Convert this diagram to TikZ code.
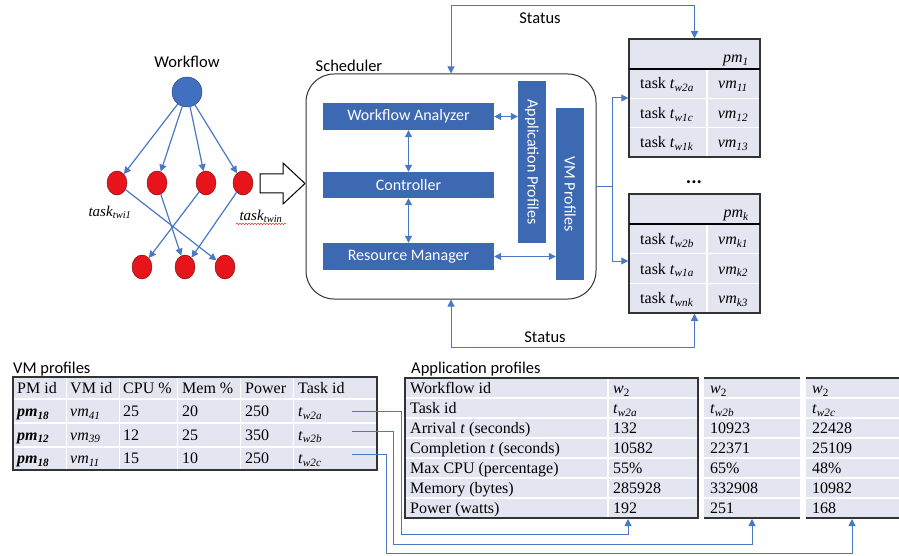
\documentclass[tikz,border=0pt]{standalone}
\usepackage{fontspec}
\setmainfont{Liberation Serif}
\newfontfamily\lblfont{Carlito}
\usetikzlibrary{arrows.meta, shapes.geometric, decorations.pathmorphing}
\definecolor{boxblue}{HTML}{3D68B2}
\definecolor{linkblue}{HTML}{4A78C4}
\definecolor{cellfill}{HTML}{E3E5F1}
\definecolor{taskred}{HTML}{E8141B}
\definecolor{rootblue}{HTML}{4270C0}
\definecolor{framegray}{HTML}{333333}
\newcommand{\tsub}[2]{\textit{#1}\textsubscript{\textit{#2}}}

\begin{document}
\begin{tikzpicture}[x=1pt, y=-1pt,
  lbl/.style={font=\lblfont\fontsize{16.5}{19}\selectfont, inner sep=0},
  tbl/.style={font=\fontsize{16}{18}\selectfont, anchor=base west, inner sep=0},
  bluebox/.style={fill=boxblue, text=white, font=\lblfont\fontsize{16}{19}\selectfont, inner sep=0},
  tasknode/.style={ellipse, fill=taskred, draw=taskred!45!black, minimum width=20, minimum height=24, inner sep=0},
  link/.style={linkblue, line width=1.2, -{Triangle[length=7pt, width=7pt]}},
  dlink/.style={linkblue, line width=1.2, {Triangle[length=7pt, width=7pt]}-{Triangle[length=7pt, width=7pt]}},
  thinlink/.style={linkblue, line width=1, -{Triangle[length=7pt, width=7pt]}},
  tblframe/.style={draw=framegray, fill=cellfill, line width=1.5, inner sep=0},
  sep/.style={white, line width=1.5}]
  \useasboundingbox (0,0) rectangle (899,556);

  % Workflow graph
  \node[lbl] (wflbl) at (187,62) {Workflow};
  \node[circle, fill=rootblue, draw=rootblue!55!black, minimum size=30, inner sep=0] (root) at (187,92) {};
  \foreach \i/\x in {1/117, 2/157, 3/206, 4/243}
    \node[tasknode] (t\i) at (\x,183) {};
  \foreach \i/\x in {1/142, 2/185, 3/225}
    \node[tasknode] (s\i) at (\x,267) {};
  \foreach \i in {1,...,4}
    \draw[link] (root) -- (t\i);
  \foreach \a/\b in {1/3, 2/2, 3/1, 4/2}
    \draw[link] (t\a) -- (s\b);
  \node[font=\fontsize{15}{18}\selectfont] (tasklbl1) at (110,212) {\textit{task}\textsubscript{\textit{twi1}}};
  \node[font=\fontsize{15}{18}\selectfont] (tasklbl2) at (261,216) {\textit{task}\textsubscript{\textit{twin}}};
  \draw[red, decorate, decoration={snake, amplitude=0.7pt, segment length=3pt}]
    ([yshift=2pt]tasklbl2.south west) -- ([yshift=2pt]tasklbl2.south east);

  % hand-over arrow
  \draw[line width=1, fill=white] (260,174) -- (283,174) -- (283,163) -- (305,183.5)
    -- (283,204) -- (283,193) -- (260,193) -- cycle;

  % Scheduler
  \node[lbl] (schedlbl) at (349,66) {Scheduler};
  \node[draw=framegray, line width=1, rounded corners=28, minimum width=290, minimum height=225, inner sep=0] (sched) at (451,186.5) {};
  \node[bluebox, minimum width=171, minimum height=27] (wa) at (408.5,116.5) {Workflow Analyzer};
  \node[bluebox, minimum width=171, minimum height=26] (ctrl) at (408.5,185) {Controller};
  \node[bluebox, minimum width=171, minimum height=27] (rm) at (408.5,256.5) {Resource Manager};
  \node[bluebox, rotate=-90, minimum width=162, minimum height=28] (ap) at (532,162) {Application Profiles};
  \node[bluebox, rotate=-90, minimum width=172, minimum height=28] (vmp) at (570,194) {VM Profiles};
  \draw[dlink] (wa.east) -- (wa.east -| ap.south);
  \draw[dlink] (wa.south) -- (ctrl.north);
  \draw[dlink] (ctrl.south) -- (rm.north);
  \draw[dlink] (rm.east) -- (rm.east -| vmp.south);

  % PM tables
  \node[tblframe, minimum width=131, minimum height=118] (pm1) at (694.5,98) {};
  \draw[sep] (630,98.3) -- (759,98.3) (630,127.7) -- (759,127.7) (707,70) -- (707,156);
  \draw[black, line width=1.5] (629,69) -- (760,69);
  \node[tbl, anchor=base east] (pm1hd) at (749,63) {\tsub{pm}{1}};
  \foreach \y/\tk/\vm in {89/w2a/11, 118.5/w1c/12, 148/w1k/13} {
    \node[tbl] at (640,\y) {task \tsub{t}{\tk}};
    \node[tbl, anchor=base] at (733,\y) {\tsub{vm}{\vm}};
  }
  \node[font=\lblfont\bfseries\fontsize{20}{20}\selectfont, anchor=base, inner sep=0] (dots) at (694,184) {...};
  \node[tblframe, minimum width=131, minimum height=119] (pmk) at (694.5,253.5) {};
  \draw[sep] (630,253.7) -- (759,253.7) (630,283.3) -- (759,283.3) (707,225) -- (707,312);
  \draw[black, line width=1.5] (629,224) -- (760,224);
  \node[tbl, anchor=base east] (pmkhd) at (749,218) {\tsub{pm}{k}};
  \foreach \y/\tk/\vm in {244.5/w2b/k1, 274/w1a/k2, 303.5/wnk/k3} {
    \node[tbl] at (640,\y) {task \tsub{t}{\tk}};
    \node[tbl, anchor=base] at (733,\y) {\tsub{vm}{\vm}};
  }

  % Scheduler to PMs
  \coordinate (fork) at (612,186.5);
  \draw[linkblue, line width=1] (sched.east) -- (fork);
  \draw[thinlink] (fork) |- (pm1.west);
  \draw[thinlink] (fork) |- ([yshift=-7.5pt]pmk.west);

  % Status loops
  \draw[dlink, line width=1] (sched.north) -- (sched.north |- 0,6) -| (pm1.north);
  \node[lbl] (stat1) at (540,18) {Status};
  \draw[dlink, line width=1] (sched.south) -- (sched.south |- 0,347) -| (pmk.south);
  \node[lbl] (stat2) at (545,337) {Status};

  % VM profiles table
  \node[lbl, anchor=west] (vmlbl) at (13,369) {VM profiles};
  \node[tblframe, minimum width=364, minimum height=93] (vmtab) at (195,423.5) {};
  \draw[sep] (14,399) -- (376,399) (14,423) -- (376,423) (14,447) -- (376,447);
  \foreach \x in {66, 119, 177, 240, 293}
    \draw[sep, line width=1] (\x,378) -- (\x,469);
  \foreach \x/\hd in {17/PM id, 70/VM id, 123/CPU \%, 182/Mem \%, 245/Power, 298/Task id}
    \node[tbl] at (\x,393.5) {\hd};
  \foreach \y/\pmi/\vmi/\cpu/\mem/\pw/\tk [count=\r] in {416.5/18/41/25/20/250/w2a, 440/12/39/12/25/350/w2b, 463.5/18/11/15/10/250/w2c} {
    \node[tbl] at (17,\y) {\textbf{\tsub{pm}{\pmi}}};
    \node[tbl] at (70,\y) {\tsub{vm}{\vmi}};
    \node[tbl] at (123,\y) {\cpu};
    \node[tbl] at (182,\y) {\mem};
    \node[tbl] at (245,\y) {\pw};
    \node[tbl] (tid\r) at (298,\y) {\tsub{t}{\tk}};
  }

  % Application profiles tables
  \node[lbl, anchor=west] (aplbl) at (411,369) {Application profiles};
  \node[tblframe, minimum width=293, minimum height=140] (appA) at (551.5,448) {};
  \node[fill=cellfill, minimum width=96, minimum height=140, inner sep=0] (appB) at (752,448) {};
  \node[fill=cellfill, minimum width=93, minimum height=140, inner sep=0] (appC) at (852.5,448) {};
  \foreach \y in {398, 418, 438, 458, 478, 498}
    \draw[sep] (406,\y) -- (697,\y) (704,\y) -- (800,\y) (806,\y) -- (899,\y);
  \draw[sep] (608,379) -- (608,517);
  \foreach \n in {appB, appC}
    \draw[framegray, line width=1.5] (\n.north west) -- (\n.north east) (\n.south west) -- (\n.south east);
  \foreach \lab/\va/\vb/\vc [count=\r] in {
      Workflow id/\textit{w}\textsubscript{2}/\textit{w}\textsubscript{2}/\textit{w}\textsubscript{2},
      Task id/\tsub{t}{w2a}/\tsub{t}{w2b}/\tsub{t}{w2c},
      Arrival \textit{t} (seconds)/132/10923/22428,
      Completion \textit{t} (seconds)/10582/22371/25109,
      Max CPU (percentage)/55\%/65\%/48\%,
      Memory (bytes)/285928/332908/10982,
      Power (watts)/192/251/168} {
    \node[tbl] at (410,373.5+20*\r) {\lab};
    \node[tbl] at (613,373.5+20*\r) {\va};
    \node[tbl] at (710,373.5+20*\r) {\vb};
    \node[tbl] at (812,373.5+20*\r) {\vc};
  }

  % Task ids to application profiles
  \coordinate (vmr1) at (352,411);
  \coordinate (vmr2) at (352,431);
  \coordinate (vmr3) at (352,454);
  \coordinate (inA) at (628,519);
  \coordinate (inB) at (752,519);
  \coordinate (inC) at (852,519);
  \draw[thinlink] (vmr1) -| (401,534) -| (inA);
  \draw[thinlink] (vmr2) -| (393,544) -| (inB);
  \draw[thinlink] (vmr3) -| (386,553) -| (inC);
\end{tikzpicture}
\end{document}
